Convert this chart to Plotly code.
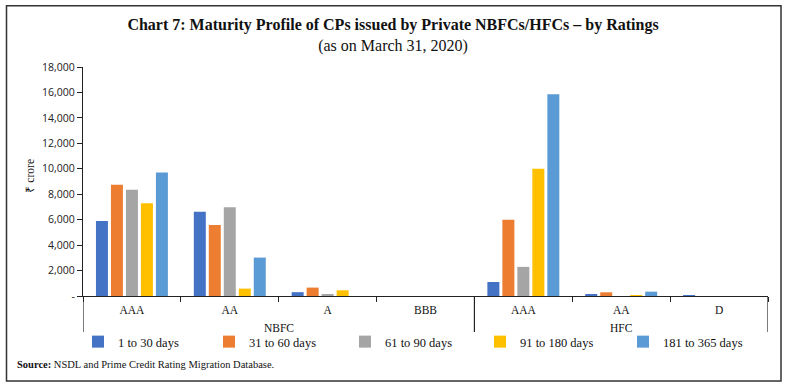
import plotly.graph_objects as go

# ---- data ----
groups = ["NBFC", "NBFC", "NBFC", "NBFC", "HFC", "HFC", "HFC"]
ratings = ["AAA", "AA", "A", "BBB", "AAA", "AA", "D"]

series_names = ["1 to 30 days", "31 to 60 days", "61 to 90 days", "91 to 180 days", "181 to 365 days"]
days_1_30 = [5900, 6630, 300, 0, 1100, 80, 40]
days_31_60 = [8750, 5580, 660, 0, 6000, 290, 0]
days_61_90 = [8350, 6970, 80, 0, 2290, 0, 0]
days_91_180 = [7300, 580, 450, 0, 10000, 40, 0]
days_181_365 = [9700, 3020, 0, 0, 15850, 340, 0]

y_tickvals = [0, 2000, 4000, 6000, 8000, 10000, 12000, 14000, 16000, 18000]
y_ticktext = ["-", "2,000", "4,000", "6,000", "8,000", "10,000", "12,000", "14,000", "16,000", "18,000"]

colors = ["#4472C4", "#ED7D31", "#A5A5A5", "#FFC000", "#5B9BD5"]
legend_widths = [86, 91, 90, 98, 80]

all_values = [days_1_30, days_31_60, days_61_90, days_91_180, days_181_365]

SERIF = "Liberation Serif"

# unique category keys for the x axis (group + rating), labelled by rating
cat_keys = [f"{g}|{r}" for g, r in zip(groups, ratings)]

fig = go.Figure()
for name, vals, col, lw in zip(series_names, all_values, colors, legend_widths):
    fig.add_trace(go.Bar(
        x=cat_keys, y=vals, name=name,
        marker=dict(color=col, line=dict(width=0)),
        legendwidth=lw,
    ))

# plot area in pixels: x 83..768, y 67..296
L, R, T, B = 83, 768, 67, 296
W, H = R - L, B - T

def px_x(p):
    return (p - L) / W

def px_y(p):
    return (B - p) / H

# group spans (in category index units) derived from the groups list
spans = []
start = 0
for i in range(1, len(groups) + 1):
    if i == len(groups) or groups[i] != groups[start]:
        spans.append((groups[start], start, i - 1))
        start = i

annotations = [
    dict(text="₹ crore", textangle=-90, xref="paper", yref="paper",
         x=px_x(29.5), y=px_y(176), xanchor="center", yanchor="middle",
         showarrow=False, font=dict(family=SERIF, size=11.5, color="#111")),
    dict(text="<b>Source:</b> NSDL and Prime Credit Rating Migration Database.",
         xref="paper", yref="paper", x=px_x(14.5), y=px_y(364),
         xanchor="left", yanchor="middle", showarrow=False,
         font=dict(family=SERIF, size=10.5, color="#111")),
]
shapes = [
    dict(type="rect", xref="paper", yref="paper",
         x0=px_x(6.5), x1=px_x(781), y0=px_y(381), y1=px_y(5.7),
         line=dict(color="#333", width=1.5), fillcolor="rgba(0,0,0,0)", layer="below"),
]
div_positions = []
for gname, a, b in spans:
    annotations.append(dict(text=gname, xref="x", yref="paper", x=(a + b) / 2, y=px_y(328),
                            xanchor="center", yanchor="middle", showarrow=False,
                            font=dict(family=SERIF, size=11.5, color="#111")))
    div_positions += [a - 0.5, b + 0.5]
for xv in sorted(set(div_positions)):
    shapes.append(dict(type="line", xref="x", yref="paper", x0=xv, x1=xv,
                       y0=0, y1=px_y(332), line=dict(color="#222", width=1.2)))

fig.update_layout(
    width=790, height=387,
    margin=dict(l=L, r=790 - R, t=T, b=387 - B, autoexpand=False),
    paper_bgcolor="white", plot_bgcolor="white",
    barmode="group", bargap=0.234, bargroupgap=0.2,
    title=dict(
        text="<b>Chart 7: Maturity Profile of CPs issued by Private NBFCs/HFCs – by Ratings</b><br>(as on March 31, 2020)",
        x=0.4975, xanchor="center", xref="container",
        y=1 - 30 / 387, yanchor="top", yref="container",
        font=dict(family=SERIF, size=16, color="#111"),
    ),
    showlegend=True,
    legend=dict(
        orientation="h", x=px_x(78), xanchor="left", y=px_y(342), yanchor="middle",
        font=dict(family=SERIF, size=12.5, color="#111"),
        bgcolor="rgba(0,0,0,0)", borderwidth=0, traceorder="normal",
    ),
    xaxis=dict(
        type="category", range=[-0.5, len(cat_keys) - 0.5],
        tickvals=cat_keys, ticktext=ratings,
        showline=True, linecolor="#222", linewidth=1.2,
        ticks="outside", ticklen=5, tickcolor="#222", tickwidth=1.2,
        tickson="boundaries", ticklabelstandoff=3,
        tickfont=dict(family=SERIF, size=11.5, color="#111"),
        showgrid=False, zeroline=False,
    ),
    yaxis=dict(
        range=[0, 18000], tickvals=y_tickvals, ticktext=y_ticktext,
        showline=True, linecolor="#222", linewidth=1.2,
        ticks="outside", ticklen=5, tickcolor="#222", tickwidth=1.2,
        tickfont=dict(family="Open Sans", size=10.5, color="#222"),
        showgrid=False, zeroline=False,
    ),
    annotations=annotations,
    shapes=shapes,
)

fig.write_html("out.html", config={"displayModeBar": False},
               post_script="document.body.style.margin='0px';")
